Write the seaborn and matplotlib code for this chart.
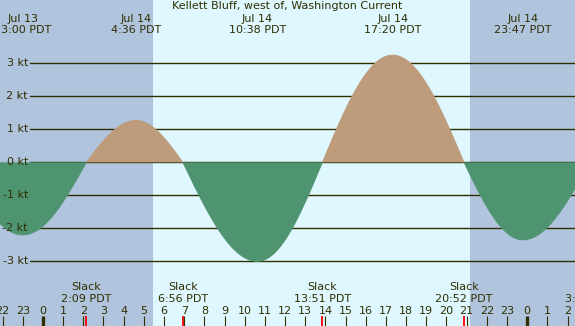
import numpy as np
import pandas as pd
import matplotlib
matplotlib.use("Agg")
import matplotlib.pyplot as plt
import matplotlib.transforms as mtransforms
import seaborn as sns

# hours relative to Jul 14 00:00 PDT
event_hour = [-4.13, -1.0, 2.15, 4.6, 6.933, 10.633, 13.85, 17.333, 20.867, 23.783, 27.1]
event_kt = [0.0, -2.2, 0.0, 1.27, 0.0, -3.0, 0.0, 3.25, 0.0, -2.35, 0.0]
event_day = ["Jul 13", "Jul 13", "Jul 14", "Jul 14", "Jul 14", "Jul 14", "Jul 14",
             "Jul 14", "Jul 14", "Jul 14", "Jul 15"]
event_time = ["19:52", "23:00", "2:09", "4:36", "6:56", "10:38", "13:51",
              "17:20", "20:52", "23:47", "3:06"]
sunrise, sunset = 5.43, 21.15
kt_levels = [3, 2, 1, 0, -1, -2, -3]
title = "Kellett Bluff, west of, Washington Current"

x_lo, x_hi = -2.13, 26.37
y_lo, y_hi = -4.96, 4.92

night = "#b0c4de"
day = "#dff7ff"
flood = "#bd9b7b"
ebb = "#4f9470"
ink = "#2f2f00"

# quarter-sine between slack and max current
eh = np.array(event_hour)
ek = np.array(event_kt)
t = np.linspace(eh[0], eh[-1], 3000)
idx = np.clip(np.searchsorted(eh, t) - 1, 0, len(eh) - 2)
f = (t - eh[idx]) / (eh[idx + 1] - eh[idx])
kt = np.where(ek[idx] == 0, ek[idx + 1] * np.sin(np.pi / 2 * f),
              ek[idx] * np.cos(np.pi / 2 * f))
# one id per flood/ebb lobe (between two slacks)
lobe = np.cumsum(np.r_[0, np.diff(np.sign(kt)) != 0])
curve = pd.DataFrame({"hour": t, "kt": kt, "lobe": lobe})

sns.set_style("white")
plt.rcParams["font.family"] = ["DejaVu Sans"]

fig = plt.figure(figsize=(5.75, 3.26), dpi=100)
ax = fig.add_axes([0, 0, 1, 1])

ax.axvspan(x_lo, sunrise, color=night, lw=0, zorder=0)
ax.axvspan(sunrise, sunset, color=day, lw=0, zorder=0)
ax.axvspan(sunset, x_hi, color=night, lw=0, zorder=0)

for k in kt_levels:
    ax.axhline(k, xmin=30 / 575, xmax=1, color=ink, lw=1.0, zorder=1)

ax.fill_between(curve["hour"], curve["kt"], 0, where=curve["kt"] >= 0,
                color=flood, lw=0, zorder=2)
ax.fill_between(curve["hour"], curve["kt"], 0, where=curve["kt"] <= 0,
                color=ebb, lw=0, zorder=2)
sns.lineplot(data=curve[curve["kt"] > 0], x="hour", y="kt", units="lobe", color=flood,
             lw=0.6, ax=ax, zorder=2, estimator=None, sort=False)
sns.lineplot(data=curve[curve["kt"] < 0], x="hour", y="kt", units="lobe", color=ebb,
             lw=0.6, ax=ax, zorder=2, estimator=None, sort=False)
ax.set_xlim(x_lo, x_hi)
ax.set_ylim(y_lo, y_hi)
ax.axis("off")

fs = 8
ytrans = mtransforms.blended_transform_factory(ax.transAxes, ax.transData)
for k in kt_levels:
    ax.text(28 / 575, k, f"{k} kt", transform=ytrans,
            ha="right", va="center", fontsize=fs, color=ink, zorder=5)

ax.text(0.5, 1 - 1 / 326, title, transform=ax.transAxes, ha="center", va="top",
        fontsize=fs, color=ink, zorder=5)

xtrans = mtransforms.blended_transform_factory(ax.transData, ax.transAxes)
for h, v, d, s in zip(event_hour, event_kt, event_day, event_time):
    if v == 0:
        ax.text(h, 1 - 282 / 326, f"Slack\n{s} PDT", transform=xtrans, ha="center",
                va="top", fontsize=fs, color=ink, linespacing=1.22, zorder=5, clip_on=True)
        ax.plot([h, h], [0, 10 / 326], transform=xtrans, color="#ff0000", lw=1.3,
                solid_capstyle="butt", zorder=4, clip_on=True)
    else:
        ax.text(h, 1 - 13.5 / 326, f"{d}\n{s} PDT", transform=xtrans, ha="center",
                va="top", fontsize=fs, color=ink, linespacing=1.22, zorder=5, clip_on=True)

for h in range(int(np.ceil(x_lo)), int(np.floor(x_hi)) + 1):
    ax.text(h, 1 - 306 / 326, str(h % 24), transform=xtrans, ha="center", va="top",
            fontsize=fs, color=ink, zorder=5, clip_on=True)
    ax.plot([h, h], [0, 10 / 326], transform=xtrans, color=ink,
            lw=2.4 if h % 24 == 0 else 0.8, solid_capstyle="butt", zorder=4)

fig.savefig("out.png", dpi=100)
